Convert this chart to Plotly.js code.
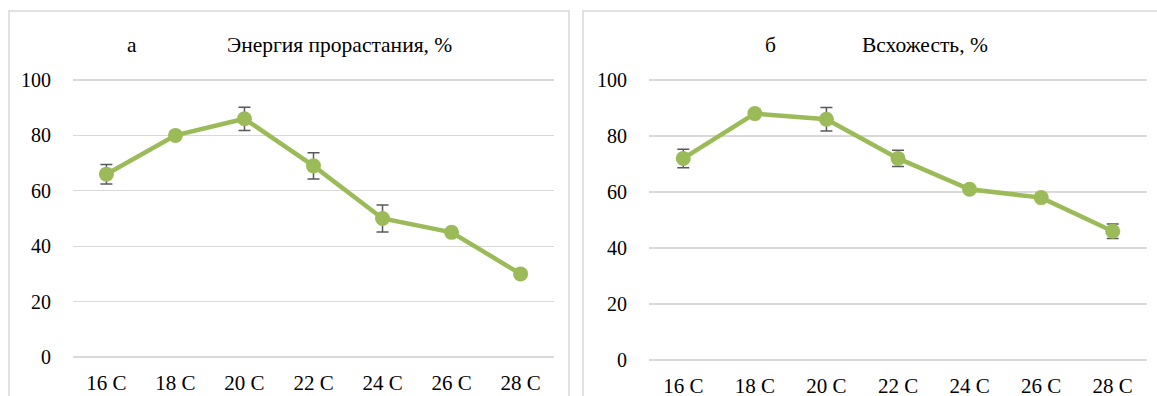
<!DOCTYPE html>
<html>
<head>
<meta charset="utf-8">
<script src="https://cdn.plot.ly/plotly-3.0.1.min.js"></script>
<style>html,body{margin:0;padding:0;background:#fff;}#chart{width:1157px;height:396px;}</style>
</head>
<body>
<div id="chart"></div>
<script>
const categories = ['16 C', '18 C', '20 C', '22 C', '24 C', '26 C', '28 C'];
const energyValues = [66, 80, 86, 69, 50, 45, 30];
const energyErrors = [3.5, 1, 4.2, 4.7, 4.9, 1, 1];
const germValues = [72, 88, 86, 72, 61, 58, 46];
const germErrors = [3.3, 1, 4.2, 2.9, 1, 1, 2.6];
const tickVals = [0, 20, 40, 60, 80, 100];

const W = 1157, H = 396;
const green = '#9BBB59';
function fnt(s) { return {family: 'Liberation Serif', size: s, color: '#000000'}; }
const PAD = 0.6;

function trace(y, err, xa, ya) {
  return {
    x: categories, y: y, xaxis: xa, yaxis: ya, type: 'scatter', mode: 'lines+markers',
    line: {color: green, width: 4.5},
    marker: {color: green, size: 15},
    error_y: {type: 'data', array: err, visible: true, color: '#595959', thickness: 1.5, width: 6},
    showlegend: false, hoverinfo: 'skip', cliponaxis: false
  };
}

function yax(bottomPx, topPx, anchor) {
  const ppu = (bottomPx - topPx) / 100;
  const b = bottomPx + PAD * ppu, t = topPx - PAD * ppu;
  return {
    domain: [(H - b) / H, (H - t) / H], range: [-PAD, 100 + PAD], tickvals: tickVals,
    showgrid: true, gridcolor: '#D9D9D9', gridwidth: 1.2, zeroline: false, showline: false,
    ticks: 'outside', ticklen: 17, tickcolor: 'rgba(0,0,0,0)', tickfont: fnt(20), anchor: anchor, fixedrange: true
  };
}
function xax(l, r, anchor) {
  return {
    domain: [l / W, r / W], type: 'category', showgrid: false, zeroline: false, showline: false,
    ticks: 'outside', ticklen: 5, tickcolor: 'rgba(0,0,0,0)', tickfont: fnt(21), anchor: anchor, fixedrange: true
  };
}
function ann(text, xPx) {
  return {text: text, xref: 'paper', yref: 'paper', x: xPx / W, y: (H - 45) / H, showarrow: false, font: fnt(21.5), xanchor: 'center', yanchor: 'middle'};
}

const layout = {
  width: W, height: H, margin: {l: 0, r: 0, t: 0, b: 0},
  paper_bgcolor: '#fff', plot_bgcolor: 'rgba(0,0,0,0)', font: fnt(20),
  xaxis: xax(73, 554, 'y'), yaxis: yax(357, 80, 'x'),
  xaxis2: xax(649, 1147, 'y2'), yaxis2: yax(360, 80, 'x2'),
  shapes: [
    {type: 'rect', xref: 'paper', yref: 'paper', x0: 9 / W, x1: 569 / W, y0: -0.1, y1: (H - 11) / H, line: {color: '#D9D9D9', width: 1.5}, layer: 'below'},
    {type: 'rect', xref: 'paper', yref: 'paper', x0: 583 / W, x1: 1.1, y0: -0.1, y1: (H - 11) / H, line: {color: '#D9D9D9', width: 1.5}, layer: 'below'}
  ],
  annotations: [
    ann('а', 132), ann('Энергия прорастания, %', 339),
    ann('б', 770), ann('Всхожесть, %', 925)
  ]
};

Plotly.newPlot('chart', [trace(energyValues, energyErrors, 'x', 'y'), trace(germValues, germErrors, 'x2', 'y2')], layout, {displayModeBar: false, staticPlot: true});
</script>
</body>
</html>
